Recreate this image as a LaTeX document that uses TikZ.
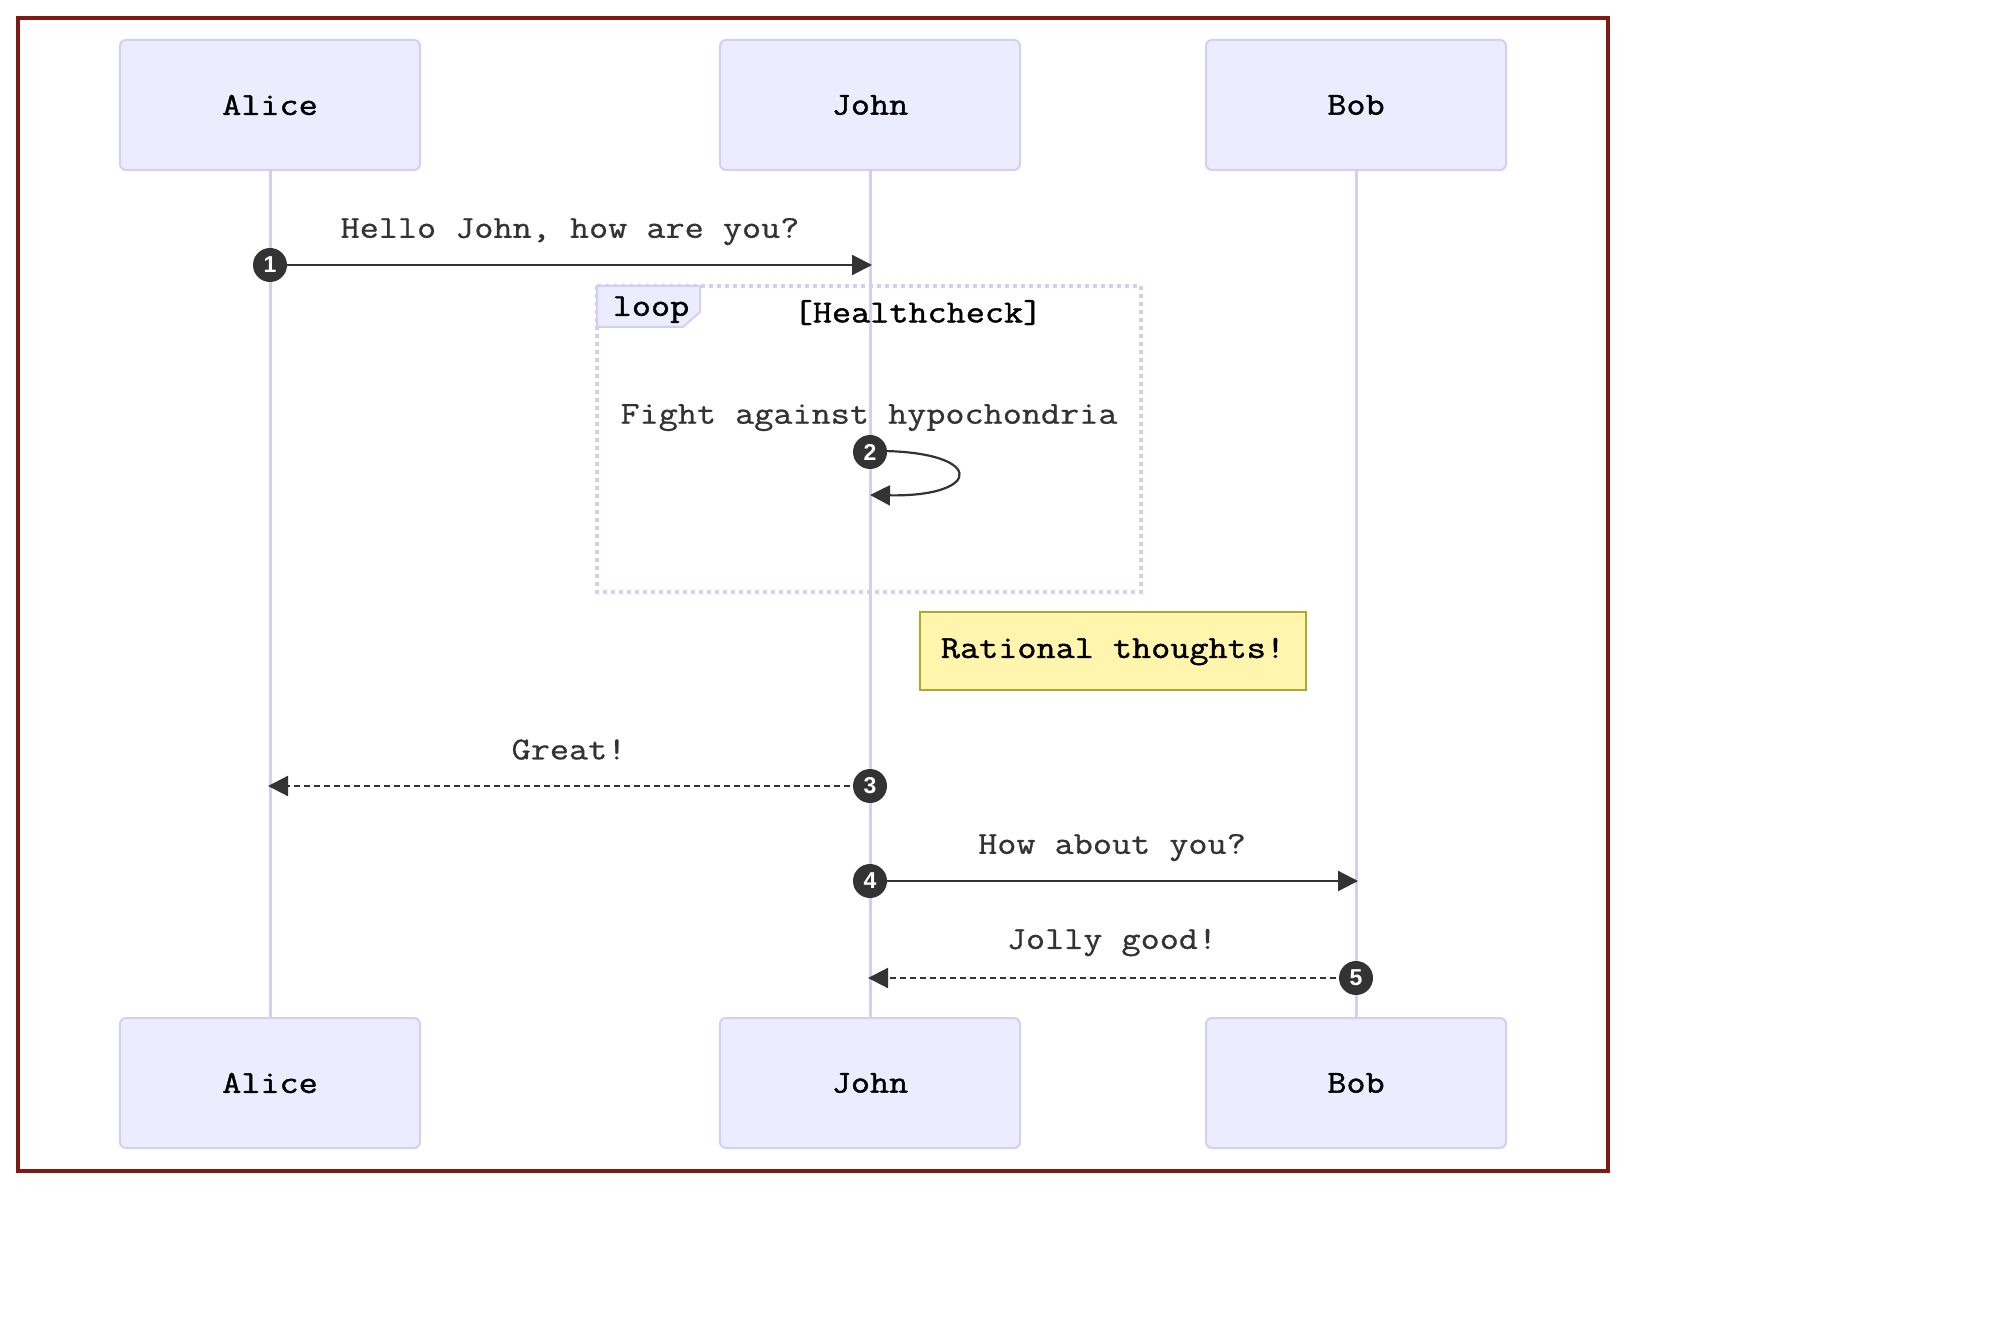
\documentclass[tikz,border=0pt]{standalone}
\usepackage{fontspec}
\setmonofont[FakeStretch=1.16]{Latin Modern Mono}
\newfontfamily\msgfont[FakeStretch=1.16, FakeBold=0.8]{Latin Modern Mono}
\newfontfamily\lblfont[FakeStretch=1.16, FakeBold=1.3]{Latin Modern Mono}
\newfontfamily\numfont{Liberation Sans}
\usetikzlibrary{arrows.meta}
\definecolor{actorfill}{HTML}{ECECFF}
\definecolor{actorline}{HTML}{D6CEF2}
\definecolor{msgcol}{HTML}{333333}
\definecolor{notefill}{HTML}{FFF5AD}
\definecolor{noteline}{HTML}{AAAA33}
\definecolor{framecol}{HTML}{7F1A12}
\tikzset{
  actor/.style={draw=actorline, fill=actorfill, line width=1pt, rounded corners=3pt,
    minimum width=150pt, minimum height=65pt, inner sep=0pt, text=black,
    font=\lblfont\fontsize{16}{18}\selectfont},
  lifeline/.style={draw=actorline, line width=1.5pt},
  msgtext/.style={text=msgcol, inner sep=0pt, yshift=-0.8pt,
    font=\msgfont\fontsize{16}{18}\selectfont},
  blacktext/.style={text=black, inner sep=0pt, yshift=-0.3pt,
    font=\lblfont\fontsize{16}{18}\selectfont},
  msg/.style={draw=msgcol, line width=1.1pt, -{Triangle[length=10pt,width=10pt]}},
  reply/.style={msg, dash pattern=on 3pt off 2pt},
  seqnum/.style={circle, fill=msgcol, minimum size=17pt, inner sep=0pt, text=white,
    font=\numfont\bfseries\fontsize{11.5}{12}\selectfont},
  loopline/.style={draw=actorline, line width=2pt, dash pattern=on 2pt off 2pt},
  notebox/.style={draw=noteline, fill=notefill, line width=1pt, minimum width=193pt,
    minimum height=39pt, inner sep=0pt},
}
\begin{document}
\begin{tikzpicture}[x=0.5pt, y=-0.5pt]
\useasboundingbox (0,0) rectangle (2000,1320);
\fill[white] (0,0) rectangle (2000,1320);

% participants, top and bottom
\node[actor] (aliceT) at (270,105) {\raisebox{-1.5pt}{Alice}};
\node[actor] (johnT) at (870,105) {\raisebox{-1.5pt}{John}};
\node[actor] (bobT) at (1356,105) {\raisebox{-1.5pt}{Bob}};
\node[actor] (aliceB) at (270,1083) {\raisebox{-1.5pt}{Alice}};
\node[actor] (johnB) at (870,1083) {\raisebox{-1.5pt}{John}};
\node[actor] (bobB) at (1356,1083) {\raisebox{-1.5pt}{Bob}};

% lifelines
\draw[lifeline] (aliceT.south) -- (aliceB.north);
\draw[lifeline] (johnT.south) -- (johnB.north);
\draw[lifeline] (bobT.south) -- (bobB.north);

% loop block
\draw[loopline] (597,286) rectangle (1141,592);
\draw[draw=actorline, fill=actorfill, line width=1pt]
  (597,286) -- (700,286) -- (700,312) -- (683,327) -- (597,327) -- cycle;
\node[blacktext] (looplbl) at (651,309) {loop};
\node[blacktext] (loopcond) at (918,312) {[Healthcheck]};

% message 1
\node[msgtext] (t1) at (570,230) {Hello John, how are you?};
\coordinate (m1s) at (270,265);
\coordinate (m1e) at (872,265);
\draw[msg] (m1s) -- (m1e);
\node[seqnum] (n1) at (m1s) {1};

% message 2 (self call)
\node[msgtext] (t2) at (869,416) {Fight against hypochondria};
\coordinate (s2a) at (870,451);
\coordinate (s2b) at (870,495);
\draw[msg] (s2a) .. controls (986,449) and (986,497) .. (s2b);
\node[seqnum] (n2) at (870,452) {2};

% note
\node[notebox] (note) at (1113,651) {};
\node[blacktext] (notetext) at (note.center) {Rational thoughts!};

% message 3
\node[msgtext] (t3) at (569,748) {Great!};
\coordinate (m3e) at (268,786);
\coordinate (m3s) at (870,786);
\draw[reply] (m3s) -- (m3e);
\node[seqnum] (n3) at (m3s) {3};

% message 4
\node[msgtext] (t4) at (1112,846) {How about you?};
\coordinate (m4s) at (870,881);
\coordinate (m4e) at (1358,881);
\draw[msg] (m4s) -- (m4e);
\node[seqnum] (n4) at (m4s) {4};

% message 5
\node[msgtext] (t5) at (1112,941) {Jolly good!};
\coordinate (m5s) at (1356,978);
\coordinate (m5e) at (868,978);
\draw[reply] (m5s) -- (m5e);
\node[seqnum] (n5) at (m5s) {5};

% outer frame
\draw[framecol, line width=2pt] (18,18) rectangle (1608,1171);
\end{tikzpicture}
\end{document}
